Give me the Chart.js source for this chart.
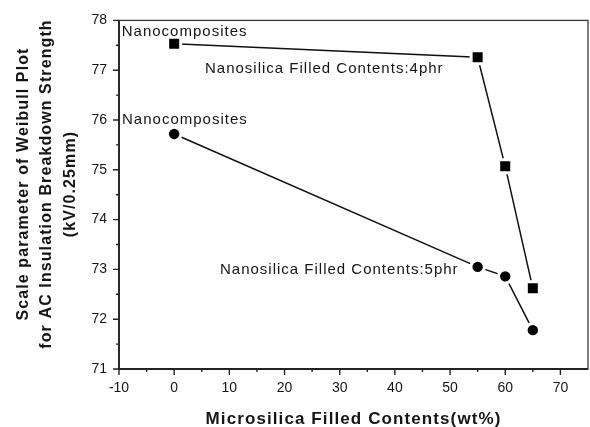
<!DOCTYPE html>
<html>
<head>
<meta charset="utf-8">
<script src="https://cdn.jsdelivr.net/npm/chart.js@4.4.1/dist/chart.umd.min.js"></script>
<style>
  html, body { margin: 0; padding: 0; background: #fff; }
  #wrap { width: 590px; height: 427px; position: relative; }
</style>
</head>
<body>
<div id="wrap"><canvas id="c"></canvas></div>
<script>
// Microsilica content (wt%) for each sample
const microsilica = [0, 55, 60, 65];
// Weibull scale parameter (kV/0.25mm), nanosilica 4 phr
const scale4phr = [77.53, 77.26, 75.07, 72.62];
// Weibull scale parameter (kV/0.25mm), nanosilica 5 phr
const scale5phr = [75.72, 73.05, 72.86, 71.78];

// Axis ticks
const xTicks = [-10, 0, 10, 20, 30, 40, 50, 60, 70];
const xMinorTicks = [-5, 5, 15, 25, 35, 45, 55, 65];
const yTicks = [71, 72, 73, 74, 75, 76, 77, 78];
const yMinorTicks = [71.5, 72.5, 73.5, 74.5, 75.5, 76.5, 77.5];

// Axis titles
const xTitle = 'Microsilica Filled Contents(wt%)';
const yTitle = ['Scale parameter of Weibull Plot', 'for AC Insulation Breakdown Strength', '(kV/0.25mm)'];

// Text notes placed in data coordinates
const notes = [
  { text: 'Nanocomposites', x: -9.5, y: 77.76 },
  { text: 'Nanosilica Filled Contents:4phr', x: 5.58, y: 77.02 },
  { text: 'Nanocomposites', x: -9.45, y: 76.01 },
  { text: 'Nanosilica Filled Contents:5phr', x: 8.3, y: 73.0 }
];

const FONT = "Arial, 'Liberation Sans', Helvetica, sans-serif";
const INK = '#151515';

function points(ys) {
  return microsilica.map((x, i) => ({ x: x, y: ys[i] }));
}

function spaced(ctx, px) {
  if ('letterSpacing' in ctx) ctx.letterSpacing = px + 'px';
}

// Frame, tick marks, axis titles and text notes
const decorations = {
  id: 'decorations',
  afterDatasetsDraw(chart) {
    const { ctx, chartArea: a, scales: { x, y } } = chart;
    ctx.save();
    // left and bottom axes heavier than the top and right frame
    ctx.strokeStyle = '#3a3a3a';
    ctx.lineWidth = 1.3;
    ctx.strokeRect(a.left, a.top, a.right - a.left, a.bottom - a.top);
    ctx.strokeStyle = '#222';
    ctx.lineWidth = 1.8;
    ctx.beginPath();
    ctx.moveTo(a.left, a.top);
    ctx.lineTo(a.left, a.bottom);
    ctx.lineTo(a.right, a.bottom);
    ctx.stroke();

    ctx.lineWidth = 1.4;
    ctx.beginPath();
    xTicks.forEach(v => { const px = x.getPixelForValue(v); ctx.moveTo(px, a.bottom); ctx.lineTo(px, a.bottom + 6); });
    xMinorTicks.forEach(v => { const px = x.getPixelForValue(v); ctx.moveTo(px, a.bottom); ctx.lineTo(px, a.bottom + 3); });
    yTicks.forEach(v => { const py = y.getPixelForValue(v); ctx.moveTo(a.left, py); ctx.lineTo(a.left - 6, py); });
    yMinorTicks.forEach(v => { const py = y.getPixelForValue(v); ctx.moveTo(a.left, py); ctx.lineTo(a.left - 3, py); });
    ctx.stroke();

    ctx.fillStyle = INK;

    // notes
    ctx.font = '15px ' + FONT;
    ctx.textAlign = 'left';
    ctx.textBaseline = 'middle';
    spaced(ctx, 1);
    notes.forEach(n => {
      ctx.fillText(n.text, x.getPixelForValue(n.x), y.getPixelForValue(n.y));
    });

    // x title
    ctx.font = 'bold 17px ' + FONT;
    ctx.textAlign = 'center';
    ctx.textBaseline = 'alphabetic';
    spaced(ctx, 1.1);
    ctx.fillText(xTitle, (a.left + a.right) / 2, 424);

    // y title, three rotated lines
    ctx.font = 'bold 16px ' + FONT;
    ctx.textBaseline = 'middle';
    spaced(ctx, 1.1);
    const cy = 184;
    [24, 47, 71].forEach((cx, i) => {
      ctx.save();
      ctx.translate(cx, cy);
      ctx.rotate(-Math.PI / 2);
      ctx.fillText(yTitle[i], 0, 0);
      ctx.restore();
    });
    ctx.restore();
  }
};

const lineStyle = {
  borderColor: '#111',
  borderWidth: 1.5,
  showLine: true,
  pointBackgroundColor: '#000',
  pointBorderColor: '#fff',
  pointBorderWidth: 3,
  pointHoverRadius: 0
};

new Chart(document.getElementById('c'), {
  type: 'scatter',
  data: {
    datasets: [
      Object.assign({ label: 'Nanosilica 4phr', data: points(scale4phr), pointStyle: 'rect', pointRadius: 9.2 }, lineStyle),
      Object.assign({ label: 'Nanosilica 5phr', data: points(scale5phr), pointStyle: 'circle', pointRadius: 6.7 }, lineStyle)
    ]
  },
  options: {
    responsive: true,
    maintainAspectRatio: false,
    animation: false,
    events: [],
    layout: { autoPadding: false, padding: { top: 14, right: 2, left: 0, bottom: 0 } },
    plugins: { legend: { display: false }, tooltip: { enabled: false } },
    scales: {
      x: {
        type: 'linear',
        min: -10,
        max: 75,
        afterBuildTicks: s => { s.ticks = xTicks.map(v => ({ value: v })); },
        afterFit: s => { s.height = 58; },
        grid: { display: false, drawTicks: false },
        border: { display: false },
        ticks: { color: INK, font: { family: FONT, size: 14 }, padding: 11, maxRotation: 0 }
      },
      y: {
        type: 'linear',
        min: 71,
        max: 78,
        afterBuildTicks: s => { s.ticks = yTicks.map(v => ({ value: v })); },
        afterFit: s => { s.width = 119; },
        grid: { display: false, drawTicks: false },
        border: { display: false },
        ticks: { color: INK, font: { family: FONT, size: 14 }, padding: 12 }
      }
    }
  },
  plugins: [decorations]
});
</script>
</body>
</html>
